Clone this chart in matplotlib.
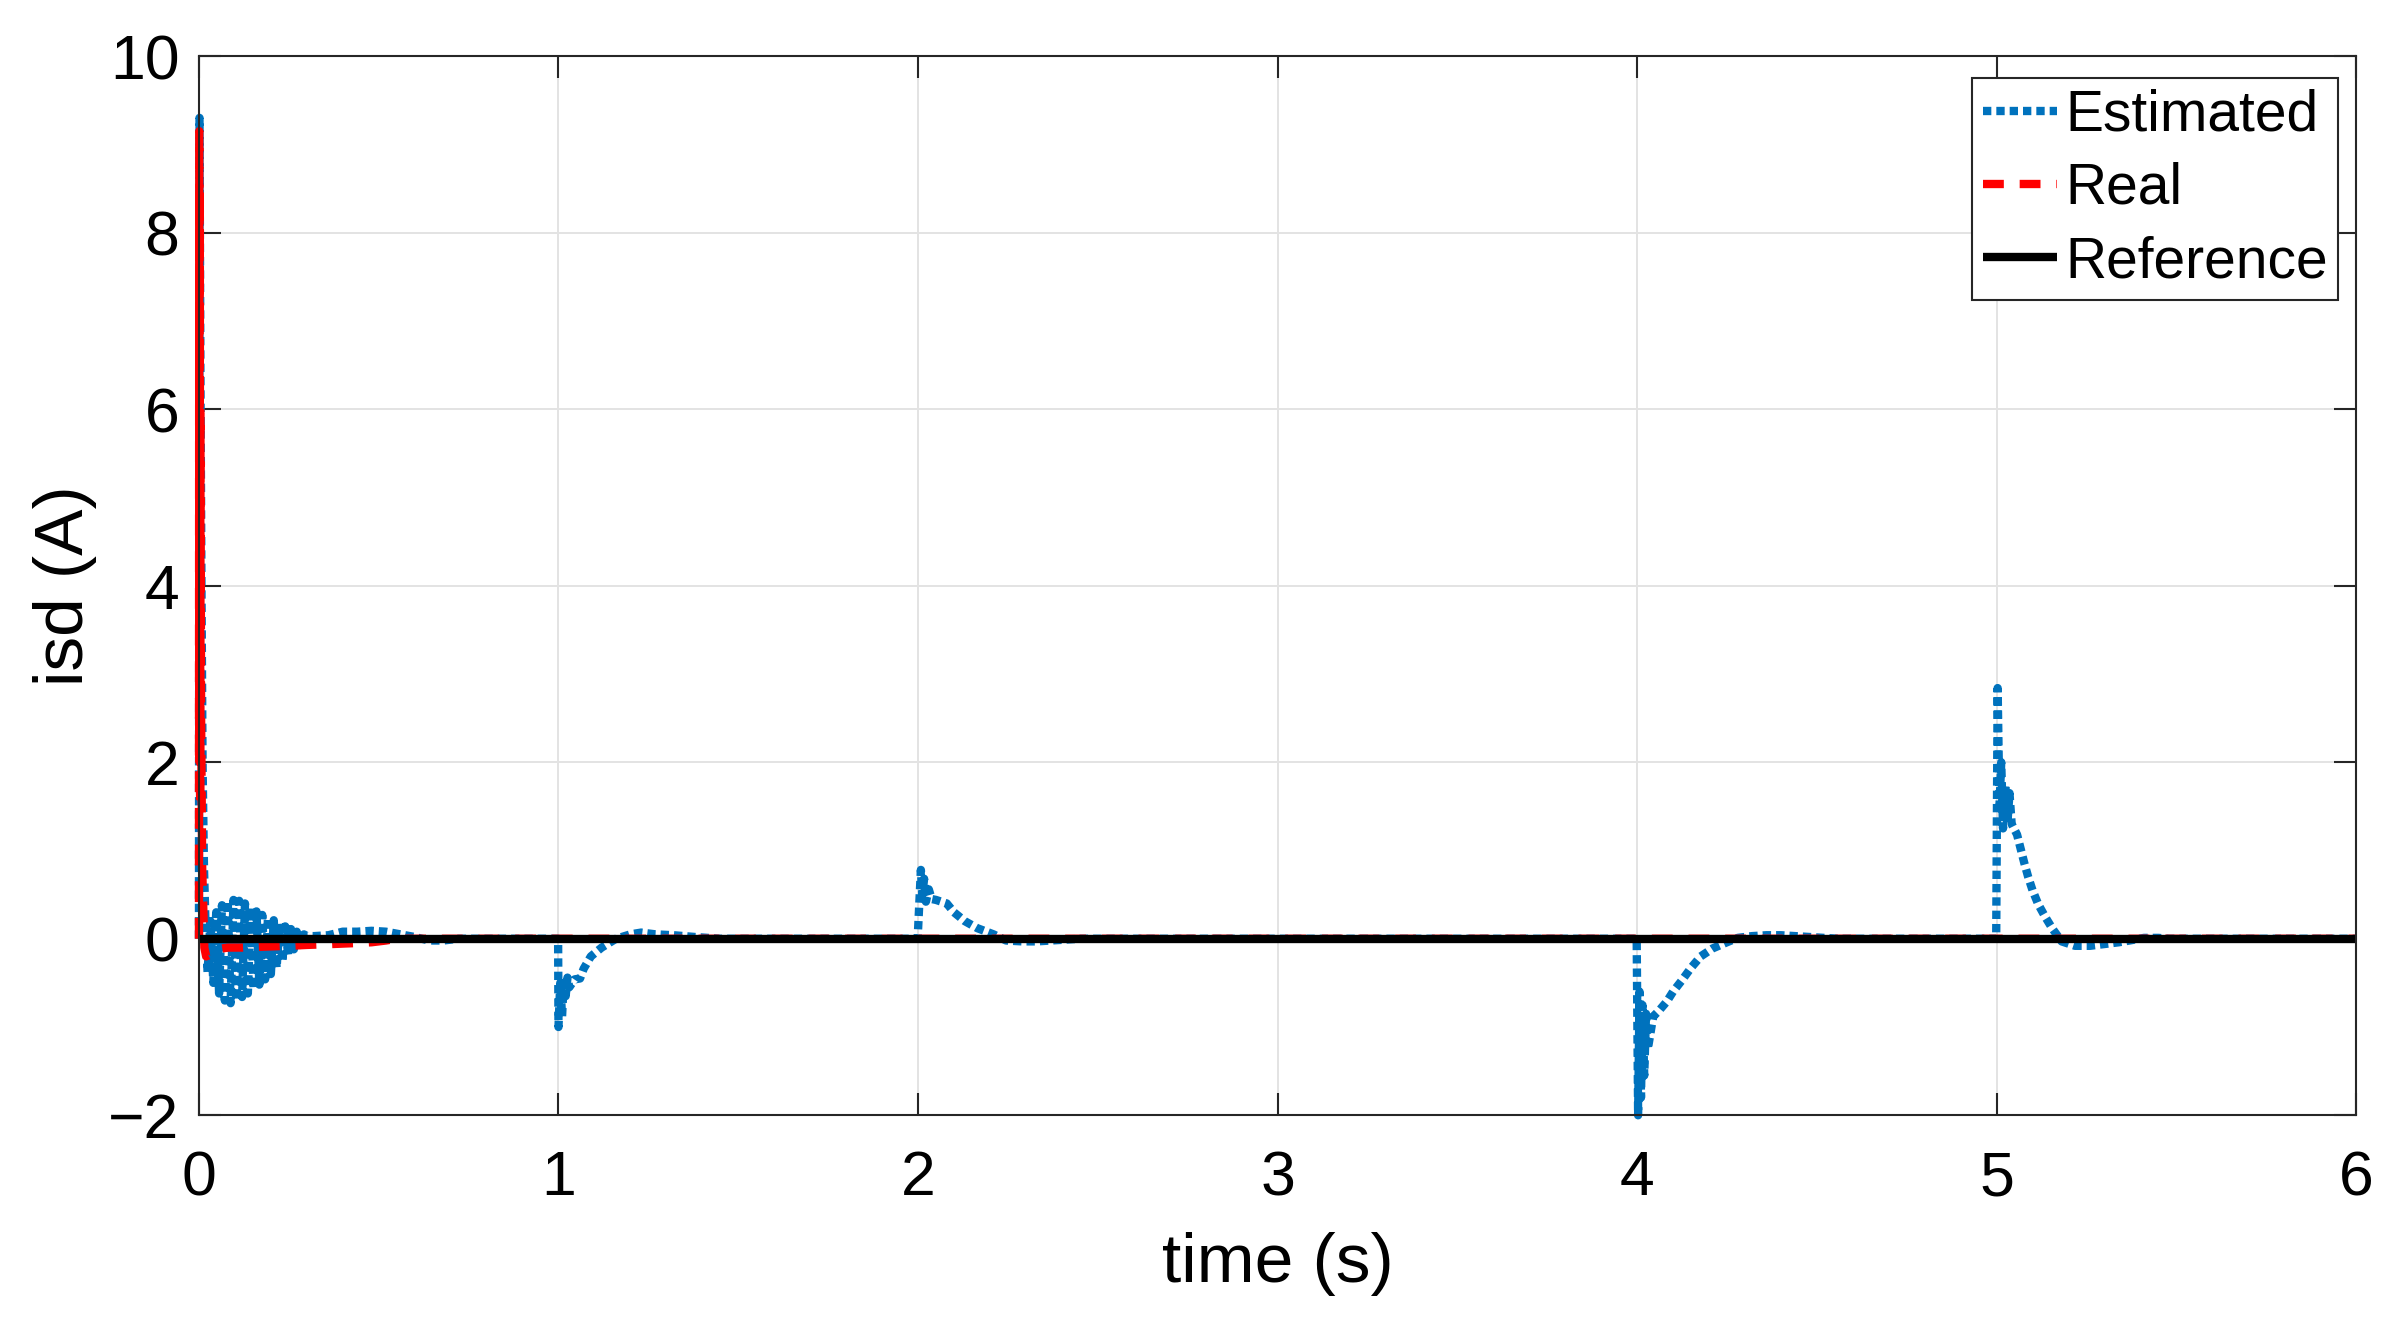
import matplotlib.pyplot as plt

plt.rcParams['font.family'] = ['Liberation Sans', 'DejaVu Sans']

# Estimated isd
est_t = [0.0, 0.0015, 0.004, 0.007, 0.010, 0.014, 0.018,
         0.024, 0.032, 0.040, 0.048, 0.056, 0.064, 0.072, 0.080, 0.088,
         0.096, 0.104, 0.112, 0.120, 0.128, 0.136, 0.144, 0.152, 0.160,
         0.168, 0.176, 0.184, 0.192, 0.200, 0.208, 0.216, 0.224, 0.232,
         0.240, 0.248, 0.256, 0.264, 0.272, 0.282, 0.292, 0.300,
         0.32, 0.36, 0.40, 0.44, 0.48, 0.52, 0.56, 0.60, 0.64, 0.68, 0.72, 0.999,
         1.0, 1.005, 1.01, 1.015, 1.02, 1.025, 1.03, 1.045, 1.06, 1.07, 1.09,
         1.12, 1.16, 1.2, 1.23, 1.27, 1.32, 1.38, 1.45, 1.999,
         2.008, 2.012, 2.017, 2.022, 2.03, 2.038, 2.05, 2.08, 2.1, 2.13, 2.165,
         2.21, 2.245, 2.29, 2.33, 2.37, 2.41, 2.45, 3.999,
         4.003, 4.007, 4.011, 4.015, 4.02, 4.025, 4.03, 4.036, 4.045, 4.06,
         4.083, 4.1, 4.125, 4.15, 4.177, 4.21, 4.25, 4.28, 4.32, 4.36, 4.4,
         4.44, 4.48, 4.52, 4.56, 4.999,
         5.003, 5.008, 5.013, 5.018, 5.024, 5.03, 5.036, 5.042, 5.057, 5.067,
         5.077, 5.088, 5.1, 5.116, 5.135, 5.156, 5.181, 5.218, 5.26, 5.3, 5.34,
         5.37, 5.41, 5.45, 5.48, 6.0]
est_v = [0.0, 9.3, 6.5, 4.0, 2.0, 0.8, 0.2,
         -0.38, 0.2, -0.5, 0.3, -0.62, 0.38, -0.7, 0.43, -0.73,
         0.44, -0.70, 0.43, -0.66, 0.40, -0.62, 0.35, -0.57, 0.31,
         -0.52, 0.27, -0.46, 0.24, -0.40, 0.21, -0.33, 0.17, -0.26,
         0.14, -0.18, 0.11, -0.12, 0.08, -0.07, 0.05, 0.03,
         0.03, 0.04, 0.08, 0.08, 0.09, 0.08, 0.05, 0.02, -0.02, -0.02, 0.0, 0.0,
         -1.0, -0.5, -0.88, -0.45, -0.65, -0.44, -0.55, -0.46, -0.45, -0.34, -0.2,
         -0.1, 0.0, 0.05, 0.07, 0.05, 0.04, 0.02, 0.0, 0.0,
         0.78, 0.5, 0.68, 0.42, 0.56, 0.45, 0.44, 0.4, 0.3, 0.2, 0.12,
         0.05, -0.02, -0.03, -0.03, -0.02, -0.01, 0.0, 0.0,
         -2.0, -0.6, -1.8, -0.75, -1.55, -0.85, -1.25, -1.1, -0.88, -0.82,
         -0.71, -0.6, -0.47, -0.33, -0.2, -0.11, -0.04, 0.01, 0.03, 0.04, 0.04,
         0.03, 0.02, 0.01, 0.0, 0.0,
         2.84, 1.5, 2.0, 1.25, 1.75, 1.3, 1.65, 1.3, 1.18, 1.02,
         0.86, 0.7, 0.55, 0.39, 0.25, 0.11, -0.03, -0.08, -0.08, -0.06, -0.04,
         -0.02, 0.01, 0.01, 0.0, 0.0]

# Real isd
real_t = [0.0, 0.0008, 0.0016, 0.0024, 0.0032, 0.004, 0.006, 0.009, 0.015,
          0.02, 0.03, 0.05, 0.08, 0.12, 0.18, 0.25, 0.3, 0.37, 0.43, 0.48,
          0.52, 0.55, 6.0]
real_v = [0.0, 9.15, 2.0, 8.5, 1.5, 6.0, 2.5, 0.8, -0.1,
          -0.2, -0.18, -0.12, -0.1, -0.1, -0.09, -0.08, -0.07, -0.06, -0.05, -0.04,
          -0.02, 0.0, 0.0]

# Reference isd
ref_t = [0.0, 6.0]
ref_v = [0.0, 0.0]

xticks = [0, 1, 2, 3, 4, 5, 6]
yticks = [-2, 0, 2, 4, 6, 8, 10]

fig = plt.figure(figsize=(12, 6.615), dpi=200)
ax = fig.add_axes([0.0829, 0.157, 0.8988, 0.8006])

lw = 3.0
# matlab does not clip the stroke width at the axes edge
ax.plot(est_t, est_v, color='#0072BD', lw=lw, linestyle=(0, (1.0, 0.6)),
        dash_capstyle='butt', clip_on=False, label='Estimated')
ax.plot(real_t, real_v, color='#FF0000', lw=lw, linestyle=(0, (2.5, 1.9)),
        dash_capstyle='butt', clip_on=False, label='Real')
ax.plot(ref_t, ref_v, color='black', lw=lw, solid_capstyle='butt',
        clip_on=False, label='Reference')

ax.set_xlim(0, 6)
ax.set_ylim(-2, 10)
ax.set_xticks(xticks)
ax.set_yticks(yticks)
ax.grid(True, color='#e3e3e3', lw=0.7)
ax.set_axisbelow(True)
ax.tick_params(direction='in', length=7.9, width=0.75, colors='#262626',
               labelcolor='black', labelsize=22.5, top=True, right=True)
ax.tick_params(axis='x', pad=12.3)
ax.tick_params(axis='y', pad=7)
for s in ax.spines.values():
    s.set_color('#262626')
    s.set_linewidth(0.75)

ax.set_xlabel('time (s)', fontsize=25, labelpad=8.3)
ax.set_ylabel('isd (A)', fontsize=25, labelpad=4)

leg = ax.legend(loc='upper right', bbox_to_anchor=(0.9917, 0.979),
                borderaxespad=0, fontsize=20.5, fancybox=False, framealpha=1,
                edgecolor='#262626', handlelength=1.3, handletextpad=0.15,
                borderpad=0.18, labelspacing=0.34)
leg.get_frame().set_linewidth(0.75)

fig.savefig('out.png', dpi=200)
